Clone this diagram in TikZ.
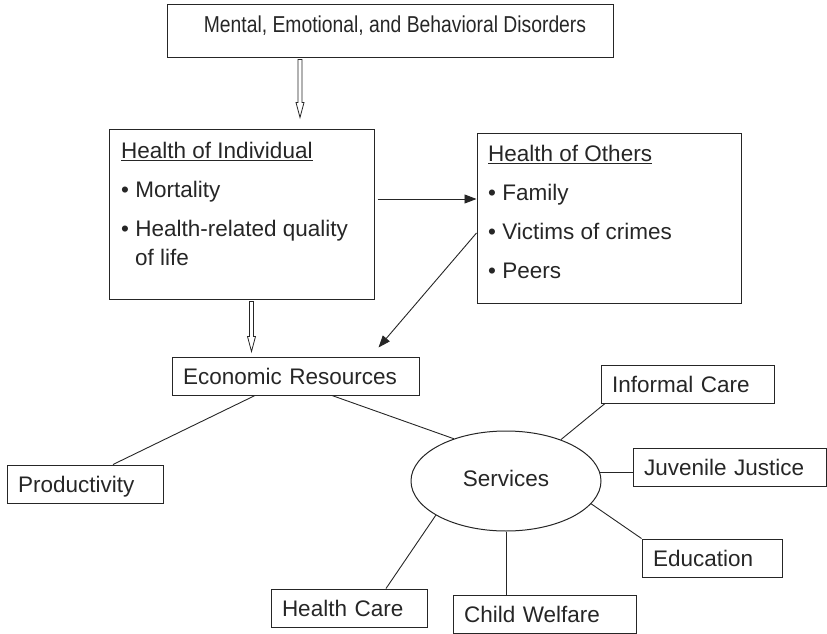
\documentclass[tikz,border=0pt]{standalone}
\usepackage{fontspec}
\setmainfont{Liberation Sans}
\newfontfamily\narrowfont[FakeStretch=0.84]{Liberation Sans}
\usepackage{xcolor}
\usetikzlibrary{shapes.geometric,positioning,calc,arrows.meta}

\definecolor{ink}{HTML}{262626}

% open (hollow) downward arrow between two points
\newcommand\hollowarrow[2]{%
  \draw[draw=ink, line width=0.8pt, fill=white] let \p1=(#1), \p2=(#2) in
    (\x1-2pt,\y1) -- (\x1-2pt,\y2+15pt) -- (\x1-4pt,\y2+15pt) -- (\x1,\y2)
    -- (\x1+4pt,\y2+15pt) -- (\x1+2pt,\y2+15pt) -- (\x1+2pt,\y1) -- cycle;}

\begin{document}
\begin{tikzpicture}[x=1pt,y=-1pt,
    font=\fontsize{22.5}{29}\selectfont, every node/.style={text=ink},
    box/.style={draw=ink, line width=1pt, inner sep=0pt},
    leaf/.style={box, align=left, inner xsep=11pt, text height=27pt, text depth=11pt},
    link/.style={draw=ink, line width=0.9pt},
    tip/.style={-{Triangle[length=12pt,width=9pt]}}]
    \useasboundingbox (0,0) rectangle (827,634);

    % top box
    \node[box, minimum width=446pt, text height=28pt, text depth=25pt,
          font=\narrowfont\fontsize{23}{27}\selectfont] (mebd) at (390,31.5)
          {\hspace*{10pt}Mental, Emotional, and Behavioral Disorders};

    % health boxes
    \node[box, minimum width=265pt, minimum height=170pt] (indiv) at (241.5,214) {};
    \node[anchor=north west, align=left, inner sep=0pt] (indivtxt) at (121,142)
          {\underline{Health of Individual}\\[10pt] • Mortality\\[10pt]
           • Health-related quality\\ \hspace*{14pt}of life};
    \node[box, minimum width=264pt, minimum height=170pt] (others) at (609,218) {};
    \node[anchor=north west, align=left, inner sep=0pt] (otherstxt) at (488,145)
          {\underline{Health of Others}\\[10pt] • Family\\[10pt]
           • Victims of crimes\\[10pt] • Peers};

    % resources and services
    \node[leaf, text width=225pt] (econ) at (295.5,376) {Economic Resources};
    \node[leaf, text width=134pt] (prod) at (85,484) {Productivity};
    \node[ellipse, draw=ink, line width=1pt, minimum width=190pt, minimum height=100pt,
          inner sep=0pt, text height=20pt, text depth=10pt] (serv) at (506,481) {Services};
    \node[leaf, text width=151pt] (informal) at (687.5,384) {Informal Care};
    \node[leaf, text width=171pt] (juv) at (729.5,467) {Juvenile Justice};
    \node[leaf, text width=118pt] (edu) at (712,558) {Education};
    \node[leaf, text width=161pt] (cw) at (544.5,614) {Child Welfare};
    \node[leaf, text width=134pt] (hc) at (349,608) {Health Care};

    % arrows
    \hollowarrow{$(mebd.south)+(-90,1)$}{$(indiv.north)+(58.5,-11)$}
    \hollowarrow{$(indiv.south)+(10,2)$}{$(econ.north)+(0,-5)$}
    \draw[link, tip] ($(indiv.east)+(3,-15)$) -- ($(others.west)+(0,-19)$);
    \draw[link, tip] ($(others.west)+(0,15)$) -- ($(econ.north)+(83,-9)$);

    % lines
    \draw[link] ($(econ.south)+(-40.5,0)$) -- ($(prod.north)+(28,0)$);
    \draw[link] ($(econ.south)+(36.5,0)$) -- (serv.141);
    \draw[link] (serv.37) -- ($(informal.south)+(-82.5,0)$);
    \draw[link] (serv.5) -- (serv.5 -| juv.west);
    \draw[link] (serv.345) -- (edu.north west);
    \draw[link] (serv.south) -- (serv.south |- cw.north);
    \draw[link] (serv.206) -- ($(hc.north)+(37,0)$);
\end{tikzpicture}
\end{document}
